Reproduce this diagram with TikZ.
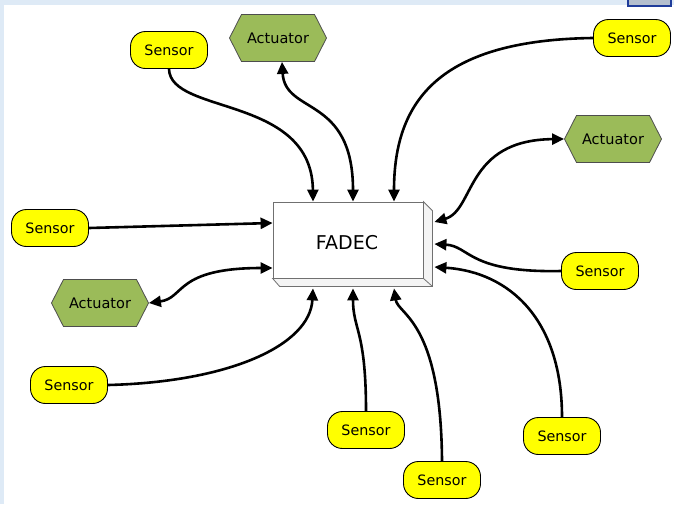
\documentclass[tikz,border=0pt]{standalone}
\usepackage{fontspec}
\setmainfont{DejaVu Sans}
\usetikzlibrary{shapes.symbols,arrows.meta}
\definecolor{sensorfill}{HTML}{FFFF00}
\definecolor{actfill}{HTML}{9BBB59}
\definecolor{actline}{HTML}{4D4D4D}
\definecolor{framefill}{HTML}{DEEAF6}
\definecolor{tabfill}{HTML}{B4BFCE}
\definecolor{tabline}{HTML}{1F3C9A}
\definecolor{boxline}{HTML}{707070}
\definecolor{boxside}{HTML}{F4F4F4}
\tikzset{
  ftip/.tip={Triangle[length=12pt,width=11pt]},
  sensor/.style={draw=black, line width=0.9pt, fill=sensorfill, rounded corners=15pt,
    minimum width=77pt, minimum height=37pt, inner sep=0pt,
    font=\fontsize{14.3}{16}\selectfont},
  actuator/.style={signal, signal to=east and west, signal pointer angle=126,
    draw=actline, line width=0.8pt, fill=actfill,
    minimum width=97pt, minimum height=47pt, inner sep=0pt,
    font=\fontsize{14.5}{16}\selectfont},
  controller/.style={draw=boxline, line width=0.8pt, fill=white,
    minimum width=150pt, minimum height=76pt, inner sep=0pt},
  link/.style={line width=2.6pt, -ftip},
  duplex/.style={line width=2.6pt, ftip-ftip},
}
\begin{document}
\begin{tikzpicture}[x=1pt, y=-1pt]
  \useasboundingbox (0,0) rectangle (674,504);
  % window frame
  \fill[white] (0,0) rectangle (674,504);
  \fill[framefill] (0,0) rectangle (674,5);
  \fill[framefill] (0,0) rectangle (4,504);
  \filldraw[fill=tabfill, draw=tabline, line width=1.2pt] (628,-2) rectangle (671,6);

  % engine controller with its extruded faces
  \node[controller] (fadec) at (348,240) {};
  \filldraw[fill=boxside, draw=boxline, line width=0.8pt]
    (fadec.north east) -- ++(9,9) |- ([xshift=7pt,yshift=-8pt]fadec.south west)
    -- (fadec.south west) -- (fadec.south east) -- cycle;
  \draw[boxline, line width=0.8pt] (fadec.south east) -- ++(9,8);
  \node[controller] at (fadec.center) {};
  \node[font=\fontsize{19}{22}\selectfont] (fadeclabel) at (347,243) {FADEC};

  % sensors
  \node[sensor] (s1) at (169,50)  {Sensor};
  \node[sensor] (s2) at (632,38)  {Sensor};
  \node[sensor] (s3) at (50,228)  {Sensor};
  \node[sensor] (s4) at (600,271) {Sensor};
  \node[sensor] (s5) at (69,385)  {Sensor};
  \node[sensor] (s6) at (366,430) {Sensor};
  \node[sensor] (s7) at (442,480) {Sensor};
  \node[sensor] (s8) at (562,436) {Sensor};

  % actuators
  \node[actuator] (a1) at (278,38)  {Actuator};
  \node[actuator] (a2) at (613,139) {Actuator};
  \node[actuator] (a3) at (100,303) {Actuator};

  % signal lines into the controller
  \draw[link] (s1.south) .. controls (170,115) and (312,95) .. ([xshift=-35pt]fadec.north);
  \draw[duplex] ([xshift=4pt]a1.south) .. controls (285,115) and (353,95) .. ([xshift=5pt]fadec.north);
  \draw[link] (s2.west) .. controls (440,40) and (394,100) .. ([xshift=46pt]fadec.north);

  \draw[duplex] ([xshift=11pt,yshift=18pt]fadec.east) .. controls (475,210) and (465,140) .. (a2.west);
  \draw[link] (s4.west) .. controls (468,273) and (470,246) .. ([xshift=11pt,yshift=-4pt]fadec.east);
  \draw[link] (s8.north) .. controls (562,320) and (510,272) .. ([xshift=11pt,yshift=-27pt]fadec.east);

  \draw[link] (s7.north) .. controls (441,320) and (398,315) .. ([xshift=46pt,yshift=-10pt]fadec.south);
  \draw[link] (s6.north) .. controls (366,330) and (353,330) .. ([xshift=5pt,yshift=-10pt]fadec.south);
  \draw[link] (s5.east) .. controls (230,382) and (310,345) .. ([xshift=-35pt,yshift=-10pt]fadec.south);

  \draw[duplex] (a3.east) .. controls (185,298) and (175,268) .. ([yshift=-28pt]fadec.west);
  \draw[link] (s3.east) -- ([yshift=17pt]fadec.west);
\end{tikzpicture}
\end{document}
